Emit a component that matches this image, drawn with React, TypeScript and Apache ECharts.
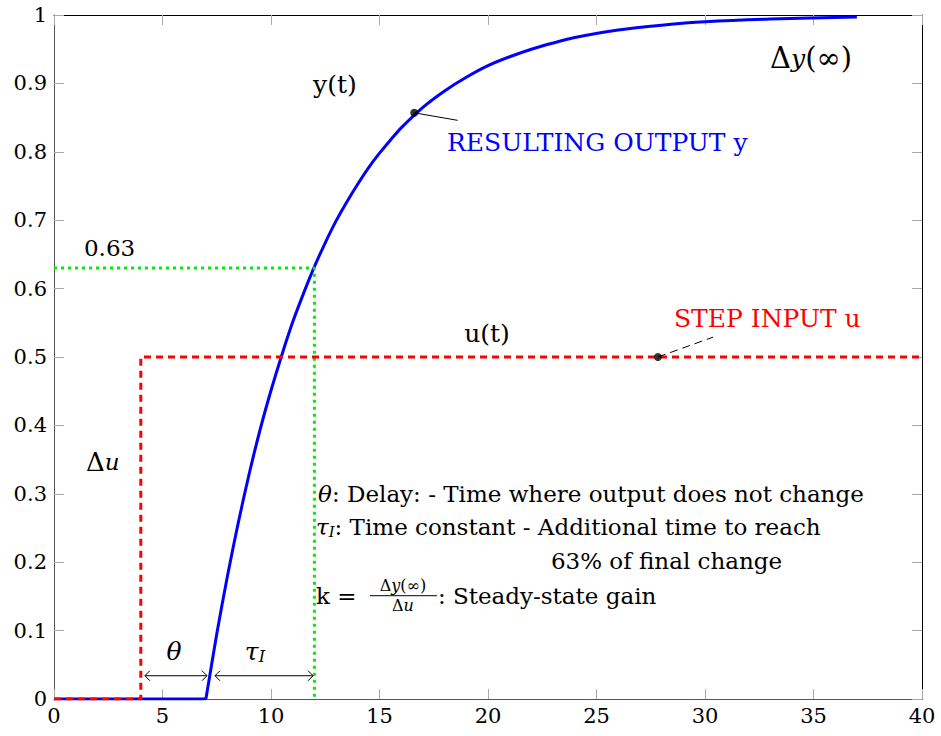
import React, { useEffect, useRef } from "react";
import * as echarts from "echarts";

// Resulting output y(t)
const outputT = [0, 7, 7.5, 8, 8.5, 9, 9.5, 10, 10.5, 11, 11.5, 12, 12.5, 13, 13.5, 14, 14.5, 15, 15.5, 16, 17, 18, 19, 20, 21, 22, 23, 24, 26, 28, 30, 33, 37];
const outputY = [0, 0, 0.095, 0.181, 0.259, 0.33, 0.394, 0.451, 0.503, 0.551, 0.593, 0.632, 0.667, 0.699, 0.727, 0.753, 0.777, 0.798, 0.817, 0.835, 0.865, 0.889, 0.909, 0.926, 0.939, 0.95, 0.959, 0.967, 0.978, 0.985, 0.99, 0.994, 0.997];
// Step input u(t)
const stepT = [0, 4, 4, 40];
const stepU = [0, 0, 0.5, 0.5];
// 63% guide
const guideT = [0, 12, 12];
const guideY = [0.63, 0.63, 0];
// Marked points
const markerPts = [[16.6, 0.857], [27.83, 0.5]];

const FONT = "'DejaVu Serif', serif";
const FS = 23;

export default function App() {
  const ref = useRef<HTMLDivElement>(null);
  useEffect(() => {
    if (!ref.current) return;
    const chart = echarts.init(ref.current, undefined, { renderer: "svg" });
    const tickLabel = { fontFamily: FONT, fontSize: 21, color: "#000" };
    const zip = (a: number[], b: number[]) => a.map((v, i) => [v, b[i]]);
    const outPts = zip(outputT, outputY);
    chart.setOption({
      animation: false,
      backgroundColor: "#fff",
      grid: { left: 54, right: 19, top: 15, bottom: 37 },
      xAxis: [
        {
          type: "value", min: 0, max: 40, interval: 5, position: "bottom",
          axisLine: { onZero: false, lineStyle: { color: "#555" } },
          axisTick: { inside: true, length: 10, lineStyle: { color: "#aaa" } },
          axisLabel: { ...tickLabel, margin: 6 },
          splitLine: { show: false },
        },
        {
          type: "value", min: 0, max: 40, interval: 5, position: "top",
          axisLine: { onZero: false, lineStyle: { color: "#000" } },
          axisTick: { inside: true, length: 10, lineStyle: { color: "#aaa" } },
          axisLabel: { show: false },
          splitLine: { show: false },
        },
      ],
      yAxis: [
        {
          type: "value", min: 0, max: 1, interval: 0.1, position: "left",
          axisLine: { show: true, onZero: false, lineStyle: { color: "#555" } },
          axisTick: { show: true, inside: true, length: 10, lineStyle: { color: "#aaa" } },
          axisLabel: { ...tickLabel, margin: 7 },
          splitLine: { show: false },
        },
        {
          type: "value", min: 0, max: 1, interval: 0.1, position: "right",
          axisLine: { show: true, onZero: false, lineStyle: { color: "#000" } },
          axisTick: { show: true, inside: true, length: 10, lineStyle: { color: "#aaa" } },
          axisLabel: { show: false },
          splitLine: { show: false },
        },
      ],
      series: [
        {
          type: "line", data: outPts.slice(0, 2), showSymbol: false,
          lineStyle: { color: "#0000ff", width: 3 }, z: 2,
        },
        {
          type: "line", data: outPts.slice(1), showSymbol: false, smooth: 0.25,
          lineStyle: { color: "#0000ff", width: 3, join: "round" }, z: 2,
        },
        {
          type: "line", data: zip(guideT, guideY), showSymbol: false,
          lineStyle: { color: "#00ee00", width: 3, type: [3, 4] }, z: 3,
        },
        {
          type: "line", data: zip(stepT, stepU), showSymbol: false,
          lineStyle: { color: "#ff0000", width: 3, type: [7, 5] }, z: 4,
        },
        {
          type: "scatter", data: markerPts, symbolSize: 8, itemStyle: { color: "#000" }, z: 6,
        },
      ],
    });

    const P = (x: number, y: number) => chart.convertToPixel({ xAxisIndex: 0, yAxisIndex: 0 }, [x, y]) as number[];
    const txt = (x: number, y: number, text: string, extra: any = {}, align = "left") => {
      const [px, py] = P(x, y);
      return {
        type: "text", x: px, y: py, z: 10,
        style: {
          text, fontFamily: FONT, fontSize: FS, fill: "#000",
          align, verticalAlign: "middle",
          ...extra,
        },
      };
    };
    const n = { fontFamily: FONT, fontSize: FS };
    const rich = {
      n,
      w: { fontFamily: FONT, fontSize: 26 },
      W: { fontFamily: FONT, fontSize: 29 },
      i: { fontFamily: FONT, fontStyle: "italic", fontSize: FS },
      I: { fontFamily: FONT, fontStyle: "italic", fontSize: 25 },
      sub: { fontFamily: FONT, fontStyle: "italic", fontSize: 15, verticalAlign: "bottom", padding: [9, 0, 0, 0] },
      sub2: { fontFamily: FONT, fontStyle: "italic", fontSize: 16, verticalAlign: "bottom", padding: [10, 0, 0, 0] },
    };
    const arrow = (x1: number, x2: number, y: number) => {
      const [a, py] = P(x1, y);
      const [b] = P(x2, y);
      const s = { stroke: "#000", lineWidth: 1, fill: "none" };
      return [
        { type: "line", shape: { x1: a, y1: py, x2: b, y2: py }, style: s, z: 10 },
        { type: "polyline", shape: { points: [[a + 5, py - 5], [a, py], [a + 5, py + 5]] }, style: s, z: 10 },
        { type: "polyline", shape: { points: [[b - 5, py - 5], [b, py], [b - 5, py + 5]] }, style: s, z: 10 },
      ];
    };
    const lead1a = P(16.6, 0.857), lead1b = P(18.6, 0.846);
    const lead2a = P(27.83, 0.5), lead2b = P(30.37, 0.529);
    const [kx, ky] = P(12.07, 0.151);
    const small = { n: { fontFamily: FONT, fontSize: 16 }, i: { fontFamily: FONT, fontSize: 16, fontStyle: "italic" } };

    chart.setOption({
      graphic: [
        txt(11.94, 0.899, "y(t)", { fontSize: 25 }),
        txt(18.11, 0.814, "RESULTING OUTPUT y", { fill: "#0000ff", fontSize: 25 }),
        txt(33.0, 0.937, "{W|Δ}{I|y}{W|(∞)}", { rich }),
        txt(1.38, 0.659, "0.63"),
        txt(18.9, 0.535, "u(t)", { fontSize: 25 }),
        txt(28.57, 0.557, "STEP INPUT u", { fill: "#ff0000", fontSize: 25 }),
        txt(1.47, 0.346, "{w|Δ}{i|u}", { rich }),
        txt(12.17, 0.3, "{i|θ}{n|: Delay: - Time where output does not change}", { rich }),
        txt(12.07, 0.251, "{i|τ}{sub|I}{n|: Time constant - Additional time to reach}", { rich }),
        txt(22.9, 0.202, "63% of final change"),
        { type: "text", x: kx, y: ky, z: 10, style: { text: "k =", fontFamily: FONT, fontSize: FS, fill: "#000", verticalAlign: "middle" } },
        { type: "text", x: kx + 87, y: ky - 2, z: 10, style: { text: "{n|Δ}{i|y}{n|(∞)}", rich: small, align: "center", verticalAlign: "bottom", fill: "#000" } },
        { type: "line", z: 10, shape: { x1: kx + 54, y1: ky, x2: kx + 121, y2: ky }, style: { stroke: "#000", lineWidth: 1 } },
        { type: "text", x: kx + 87, y: ky + 2, z: 10, style: { text: "{n|Δ}{i|u}", rich: small, align: "center", verticalAlign: "top", fill: "#000" } },
        { type: "text", x: kx + 122, y: ky, z: 10, style: { text: ": Steady-state gain", fontFamily: FONT, fontSize: FS, fill: "#000", verticalAlign: "middle" } },
        txt(5.53, 0.069, "{I|θ}", { rich }, "center"),
        txt(9.26, 0.069, "{I|τ}{sub2|I}", { rich }, "center"),
        ...arrow(4.19, 7.05, 0.034),
        ...arrow(7.42, 11.94, 0.034),
        { type: "line", z: 10, shape: { x1: lead1a[0], y1: lead1a[1], x2: lead1b[0], y2: lead1b[1] }, style: { stroke: "#000", lineWidth: 1 } },
        { type: "line", z: 10, shape: { x1: lead2a[0], y1: lead2a[1], x2: lead2b[0], y2: lead2b[1] }, style: { stroke: "#000", lineWidth: 1, lineDash: [8, 5] } },
      ],
    });
    return () => chart.dispose();
  }, []);
  return <div ref={ref} style={{ position: "absolute", left: 0, top: 0, width: 941, height: 736 }} />;
}
